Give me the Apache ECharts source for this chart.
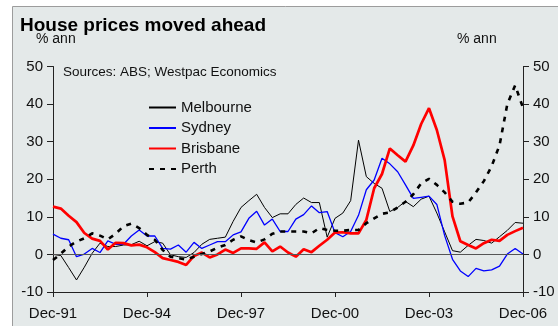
<!DOCTYPE html>
<html>
<head>
<meta charset="utf-8">
<script src="https://cdn.jsdelivr.net/npm/echarts@6/dist/echarts.min.js"></script>
<style>
html,body{margin:0;padding:0;background:#fff;}
#chart{width:558px;height:326px;}
</style>
</head>
<body>
<div id="chart"></div>
<script>
// Quarterly categories Dec-91 .. Dec-06
const quarters = [
 'Dec-91','Mar-92','Jun-92','Sep-92','Dec-92','Mar-93','Jun-93','Sep-93','Dec-93','Mar-94','Jun-94','Sep-94',
 'Dec-94','Mar-95','Jun-95','Sep-95','Dec-95','Mar-96','Jun-96','Sep-96','Dec-96','Mar-97','Jun-97','Sep-97',
 'Dec-97','Mar-98','Jun-98','Sep-98','Dec-98','Mar-99','Jun-99','Sep-99','Dec-99','Mar-00','Jun-00','Sep-00',
 'Dec-00','Mar-01','Jun-01','Sep-01','Dec-01','Mar-02','Jun-02','Sep-02','Dec-02','Mar-03','Jun-03','Sep-03',
 'Dec-03','Mar-04','Jun-04','Sep-04','Dec-04','Mar-05','Jun-05','Sep-05','Dec-05','Mar-06','Jun-06','Sep-06',
 'Dec-06'
];
const xTickLabels = ['Dec-91','Dec-94','Dec-97','Dec-00','Dec-03','Dec-06'];
const yTicks = [-10, 0, 10, 20, 30, 40, 50];

const melbourne = [
 0, -0.3, -3.5, -6.8, -3.4, 0.3, 3.0, 2.1, 2.1, 2.5, 2.6, 3.5, 2.3,
 3.4, 3.0, -0.1, -0.6, -0.8, 0.5, 2.7, 4.0, 4.3, 4.6, 8.8, 12.5,
 14.3, 16.0, 12.5, 9.8, 10.8, 10.8, 13.3, 15.0, 13.8, 13.8, 4.6, 9.6,
 11.0, 14.3, 30.4, 20.7, 18.9, 17.6, 11.4, 12.5, 14.1, 12.7, 14.7, 15.5,
 11.0, 6.0, 1.0, 0.6, 2.4, 4.0, 3.7, 3.0, 4.7, 6.4, 8.5, 8.3
];
const sydney = [
 5.4, 4.3, 3.9, -0.6, 0.1, 1.6, 0.5, 3.6, 2.7, 2.7, 4.9, 6.5, 4.9,
 4.9, 1.6, 1.4, 2.5, 0.6, 3.2, 1.6, 2.5, 3.4, 3.4, 5.2, 6.0,
 9.6, 11.5, 7.8, 9.4, 6.1, 6.1, 9.4, 10.6, 12.9, 11.1, 11.4, 5.8,
 4.7, 6.1, 10.4, 17.2, 19.8, 25.6, 24.1, 22.0, 18.5, 14.9, 15.2, 15.5,
 13.3, 5.0, -1.3, -4.4, -5.9, -3.7, -4.4, -4.1, -3.1, 0.1, 1.6, 0.1
];
const brisbane = [
 12.7, 12.2, 10.3, 8.6, 5.7, 4.2, 3.6, 1.3, 3.1, 3.0, 2.4, 2.6, 1.9,
 0.6, -1.0, -1.5, -2.0, -2.8, -0.4, 0.5, -0.8, 0, 1.3, 0.4, 1.6,
 1.6, 1.5, 3.2, 0.8, 2.1, 0.5, -0.6, 1.4, 0.6, 2.3, 3.9, 5.8,
 5.9, 5.6, 5.6, 9.2, 17.6, 21.4, 28.2, 26.4, 24.7, 29.0, 34.7, 38.9,
 33.1, 25.1, 10.1, 3.5, 2.5, 1.6, 3.0, 3.9, 3.6, 5.2, 6.2, 7.1
];
const perth = [
 -1.5, 0.2, 2.1, 3.4, 4.3, 5.6, 5.0, 4.0, 5.5, 7.5, 8.2, 7.0, 5.2,
 3.9, 1.2, -0.6, -1.0, -1.4, -0.6, 0.1, 0.8, 1.8, 2.5, 3.9, 4.8,
 3.8, 3.2, 4.0, 5.5, 6.1, 6.1, 6.1, 6.1, 5.6, 7.0, 6.5, 6.3,
 6.3, 6.5, 6.5, 8.3, 9.6, 10.8, 11.2, 12.5, 14.0, 16.0, 18.9, 20.1,
 18.5, 16.5, 14.0, 13.5, 13.8, 16.5, 19.5, 23.5, 29.0, 40.0, 45.0, 39.0
];

const FONT = '"Liberation Sans", Arial, sans-serif';
const chart = echarts.init(document.getElementById('chart'), null, {renderer: 'canvas'});

function yAxisCfg(pos) {
  return {
    type: 'value', position: pos,
    min: yTicks[0], max: yTicks[yTicks.length - 1], interval: 10,
    axisLine: {show: true, lineStyle: {color: '#222', width: 1}},
    axisTick: {show: true, inside: false, length: 6, lineStyle: {color: '#222'}},
    axisLabel: {margin: 10, fontSize: 15, color: '#111', fontFamily: FONT},
    splitLine: {show: false}
  };
}

chart.setOption({
  animation: false,
  backgroundColor: '#ffffff',
  graphic: [
    {type: 'rect', z: -100, silent: true,
     shape: {x: 12.5, y: 6.5, width: 600, height: 400},
     style: {fill: '#e4e9e9', stroke: '#9c9c9c', lineWidth: 1}},
    {type: 'text', x: 20, y: 26, silent: true,
     style: {text: 'House prices moved ahead', font: 'bold 19px ' + FONT, fill: '#000', verticalAlign: 'middle'}},
    {type: 'text', x: 36, y: 39, silent: true,
     style: {text: '% ann', font: '14px ' + FONT, fill: '#111', verticalAlign: 'middle'}},
    {type: 'text', x: 457, y: 39, silent: true,
     style: {text: '% ann', font: '14px ' + FONT, fill: '#111', verticalAlign: 'middle'}},
    {type: 'text', x: 63, y: 72, silent: true,
     style: {text: 'Sources: ABS; Westpac Economics', font: '13.5px ' + FONT, fill: '#111', verticalAlign: 'middle'}}
  ],
  legend: {
    orient: 'vertical', left: 148, top: 97.5, padding: 0,
    itemWidth: 27, itemHeight: 14, itemGap: 0.5,
    itemStyle: {opacity: 0},
    textStyle: {fontSize: 15, color: '#111', fontFamily: FONT, lineHeight: 20},
    data: ['Melbourne', 'Sydney', 'Brisbane', 'Perth']
  },
  grid: {left: 53, right: 35, top: 66.5, bottom: 34},
  xAxis: {
    type: 'category', data: quarters, boundaryGap: false,
    axisLine: {onZero: false, lineStyle: {color: '#222', width: 1}},
    axisTick: {interval: 11, length: 5, inside: false, lineStyle: {color: '#222'}},
    axisLabel: {interval: 11, margin: 14, fontSize: 15, color: '#111', fontFamily: FONT,
      formatter: function (v) { return xTickLabels.indexOf(v) >= 0 ? v : ''; }},
    splitLine: {show: false}
  },
  yAxis: [yAxisCfg('left'), yAxisCfg('right')],
  series: [
    {name: 'Melbourne', type: 'line', data: melbourne, symbol: 'none', yAxisIndex: 0,
     lineStyle: {color: '#000', width: 1}, itemStyle: {color: '#000'},
     markLine: {silent: true, symbol: 'none', label: {show: false},
       lineStyle: {color: '#555', width: 1, type: 'solid'}, data: [{yAxis: 0}]}},
    {name: 'Sydney', type: 'line', data: sydney, symbol: 'none', yAxisIndex: 0,
     lineStyle: {color: '#0000ff', width: 1.3}, itemStyle: {color: '#0000ff'}},
    {name: 'Brisbane', type: 'line', data: brisbane, symbol: 'none', yAxisIndex: 0,
     lineStyle: {color: '#ff0000', width: 2.7}, itemStyle: {color: '#ff0000'}},
    {name: 'Perth', type: 'line', data: perth, symbol: 'none', yAxisIndex: 0,
     lineStyle: {color: '#000', width: 2.6, type: [5, 6]}, itemStyle: {color: '#000'}}
  ]
});
</script>
</body>
</html>
